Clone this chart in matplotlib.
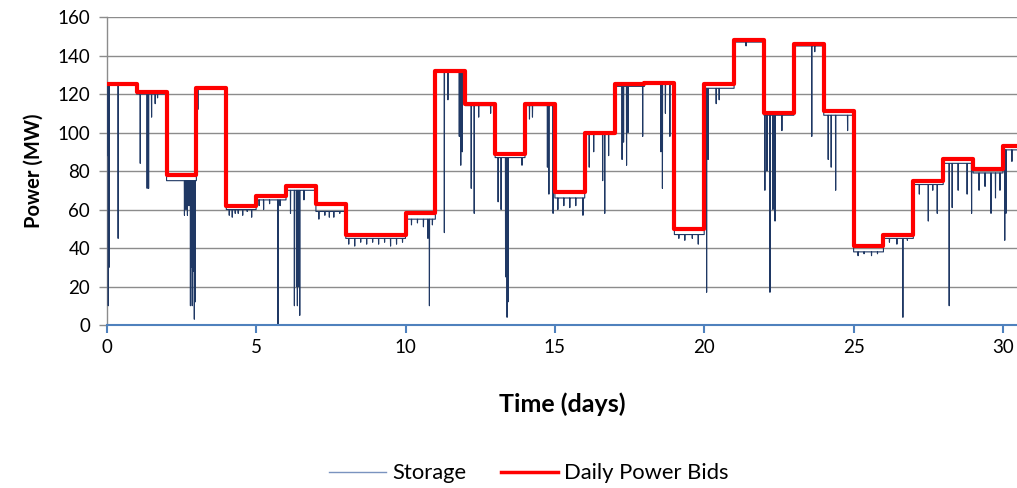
import numpy as np
import matplotlib
matplotlib.use('Agg')
import matplotlib.pyplot as plt
from matplotlib.lines import Line2D

plt.rcParams['font.family'] = ['Lato', 'DejaVu Sans']

# daily power bids (MW), one value per day starting at day 0
bid_days = list(range(31))
bid_mw = [125, 121, 78, 123, 62, 67, 72, 63, 47, 47, 58, 132, 115, 89, 115, 69,
          100, 125, 126, 50, 125, 148, 110, 146, 111, 41, 47, 75, 86, 81, 93]

# storage: typical level per day and the dips (time in days, MW)
storage_level = [125, 120, 75, 123, 60, 65, 70, 59, 45, 45, 55, 132, 114, 87, 114, 66,
                 99, 124, 125, 47, 123, 147, 109, 145, 109, 38, 45, 73, 84, 79, 91]
dip_t = [0.05, 0.08, 0.38,
         1.12, 1.35, 1.38, 1.40, 1.5, 1.62, 1.7,
         2.6, 2.65, 2.7, 2.75, 2.8, 2.83, 2.86, 2.9, 2.93, 2.96,
         3.05,
         4.1, 4.2, 4.3, 4.4, 4.55, 4.7, 4.85,
         5.1, 5.25, 5.45, 5.73, 5.8,
         6.15, 6.28, 6.35, 6.38, 6.42, 6.46, 6.6,
         7.1, 7.3, 7.45, 7.6, 7.8,
         8.1, 8.3, 8.5, 8.7, 8.9,
         9.1, 9.3, 9.5, 9.7, 9.9,
         10.2, 10.4, 10.6, 10.75, 10.8, 10.9,
         11.3, 11.42, 11.8, 11.85, 11.9,
         12.2, 12.3, 12.45, 12.85,
         13.1, 13.2, 13.35, 13.4, 13.43, 13.9,
         14.15, 14.25, 14.75, 14.8, 14.94,
         15.1, 15.3, 15.5, 15.7, 15.94,
         16.15, 16.3, 16.6, 16.67, 16.8,
         17.25, 17.3, 17.4, 17.45, 17.94,
         18.55, 18.6, 18.7, 18.85,
         19.15, 19.35, 19.6, 19.8,
         20.08, 20.13, 20.4, 20.5,
         21.4,
         22.03, 22.1, 22.2, 22.3, 22.37, 22.6,
         23.6, 23.7,
         24.15, 24.25, 24.4, 24.8,
         25.15, 25.35, 25.6, 25.8,
         26.2, 26.45, 26.65, 26.8,
         27.2, 27.5, 27.65, 27.8,
         28.2, 28.3, 28.5, 28.8, 28.95,
         29.2, 29.4, 29.6, 29.75, 29.9,
         30.06, 30.1, 30.3]
dip_mw = [10, 30, 45,
          84, 71, 74, 71, 108, 115, 118,
          57, 60, 57, 62, 10, 30, 10, 28, 3, 12,
          112,
          57, 56, 58, 58, 57, 59, 56,
          62, 60, 63, 0, 62,
          58, 10, 20, 10, 20, 5, 65,
          55, 57, 56, 56, 58,
          42, 41, 43, 42, 43,
          42, 43, 41, 42, 43,
          52, 53, 51, 45, 10, 52,
          48, 117, 98, 83, 90,
          71, 58, 108, 110,
          64, 60, 25, 4, 12, 83,
          107, 108, 82, 68, 58,
          60, 62, 61, 62, 57,
          82, 90, 75, 58, 88,
          86, 95, 83, 100, 98,
          90, 71, 110, 98,
          45, 44, 45, 42,
          17, 86, 115, 117,
          145,
          70, 80, 17, 60, 54, 101,
          98, 142,
          86, 82, 70, 101,
          36, 37, 36, 37,
          43, 42, 4, 44,
          68, 54, 70, 58,
          10, 61, 70, 68, 58,
          70, 72, 58, 66, 70,
          44, 58, 85]

# build the storage trace: flat daily level with thin spikes at the dips
st_t, st_v = [0.0], [88]
dips = list(zip(dip_t, dip_mw))
for d, lvl in enumerate(storage_level):
    st_t.append(d + 0.001)
    st_v.append(lvl)
    for t, v in dips:
        if d <= t < d + 1:
            st_t += [t - 0.006, t, t + 0.006]
            st_v += [lvl, v, lvl]
    st_t.append(d + 0.999)
    st_v.append(lvl)

fig = plt.figure(figsize=(10.17, 4.88), dpi=100)
ax = fig.add_axes([0.105, 0.334, 0.895, 0.631])

ax.plot(st_t, st_v, color='#1f3864', linewidth=0.8, zorder=3)
ax.step(bid_days + [31], bid_mw + [bid_mw[-1]], where='post', color='#ff0000',
        linewidth=3, zorder=4)

ax.set_xlim(0, 30.47)
ax.set_ylim(0, 160)
ax.set_xticks(range(0, 31, 5))
ax.set_yticks(range(0, 161, 20))
ax.yaxis.grid(True, color='#8c8c8c', linewidth=1)
ax.set_axisbelow(True)

for s in ['top', 'right']:
    ax.spines[s].set_visible(False)
ax.spines['left'].set_color('#8c8c8c')
ax.spines['left'].set_linewidth(1)
ax.spines['bottom'].set_color('#4f81bd')
ax.spines['bottom'].set_linewidth(1.5)
ax.spines['bottom'].set_zorder(5)
ax.tick_params(axis='x', colors='#4f81bd', length=6, width=1.5, labelcolor='black',
               labelsize=13.5, pad=4)
ax.tick_params(axis='y', colors='#8c8c8c', length=6, width=1, labelcolor='black',
               labelsize=13.5, pad=6)

ax.set_xlabel('Time (days)', fontsize=18, fontweight='bold', labelpad=26)
ax.set_ylabel('Power (MW)', fontsize=14.5, fontweight='bold', labelpad=10)

handles = [Line2D([], [], color='#7a93bf', linewidth=1.0),
           Line2D([], [], color='#ff0000', linewidth=2.5)]
fig.legend(handles, ['Storage', 'Daily Power Bids'], loc='center',
           bbox_to_anchor=(0.52, 0.03), ncol=2, frameon=False,
           fontsize=15.8, handlelength=2.6, columnspacing=1.6, handletextpad=0.25)

fig.savefig('out.png', dpi=100)
